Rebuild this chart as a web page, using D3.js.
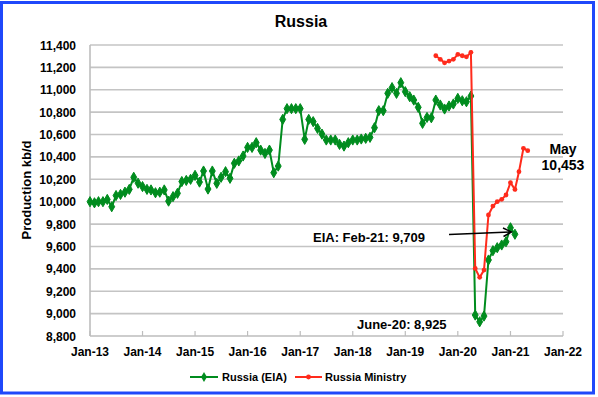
<!DOCTYPE html>
<html>
<head>
<meta charset="utf-8">
<script src="https://cdn.jsdelivr.net/npm/d3@7"></script>
<style>
  html, body { margin: 0; padding: 0; background: #fff; }
  svg { display: block; font-family: "Liberation Sans", Arial, sans-serif; }
</style>
</head>
<body>
<div id="main"></div>
<script>
// Russia oil production, kb/d
const eiaStart = new Date(2013, 0, 1);
const eiaValues = [
  10000, 9990, 10000, 10000, 10020, 9955, 10055, 10065, 10085, 10110, 10218, 10165,
  10135, 10110, 10105, 10080, 10085, 10105, 10005, 10045, 10075, 10180, 10190, 10200,
  10235, 10175, 10274, 10113, 10274, 10164, 10218, 10268, 10209, 10343, 10364, 10408,
  10485, 10485, 10527, 10461, 10431, 10461, 10259, 10318, 10735, 10831, 10831, 10831,
  10831, 10557, 10735, 10715, 10655, 10604, 10551, 10551, 10551, 10512, 10497, 10527,
  10551, 10551, 10560, 10566, 10575, 10661, 10813, 10813, 10968, 11019, 10968, 11063,
  10983, 10938, 10908, 10843, 10700, 10753, 10750, 10908, 10864, 10828, 10855, 10873,
  10923, 10902, 10893, 10944, 8987, 8927, 8978, 9479, 9562, 9589, 9613, 9642,
  9767, 9709
];
const ministryStart = new Date(2019, 7, 1);
const ministryValues = [
  11304, 11272, 11241, 11256, 11272,
  11316, 11304, 11294, 11335, 9404, 9324, 9389, 9881, 9961, 10000, 10021, 10060,
  10170, 10110, 10268, 10477, 10456
];
const xTickLabels = ["Jan-13", "Jan-14", "Jan-15", "Jan-16", "Jan-17", "Jan-18", "Jan-19", "Jan-20", "Jan-21", "Jan-22"];
const yTicks = [8800, 9000, 9200, 9400, 9600, 9800, 10000, 10200, 10400, 10600, 10800, 11000, 11200, 11400];

const green = "#008c1e", red = "#ff2b1c";

const toSeries = (start, vals) => vals.map((v, i) => ({ date: d3.timeMonth.offset(start, i), value: v }));
const eia = toSeries(eiaStart, eiaValues);
const ministry = toSeries(ministryStart, ministryValues);

const width = 598, height = 397;
const svg = d3.select('#main').append('svg').attr('width', width).attr('height', height);

const x = d3.scaleTime().domain([new Date(2013, 0, 1), new Date(2022, 0, 1)]).range([90, 563]);
const y = d3.scaleLinear().domain([8800, 11400]).range([336, 45]);
const parseTick = d3.timeParse("%b-%y");

// outer frame
svg.append('rect').attr('x', 1.5).attr('y', 2.5).attr('width', 592).attr('height', 390.5)
  .style('fill', '#fff').style('stroke', '#1f48fb').style('stroke-width', 3);

// gridlines
svg.append('g').selectAll('line').data(yTicks.slice(1)).join('line')
  .attr('x1', 90).attr('x2', 563)
  .attr('y1', d => y(d)).attr('y2', d => y(d))
  .style('stroke', '#c4c4c4').style('stroke-width', 1.6);

// axes lines
svg.append('line').attr('x1', 90).attr('x2', 90).attr('y1', 45).attr('y2', 336)
  .style('stroke', '#bdbdbd').style('stroke-width', 1.6);
svg.append('line').attr('x1', 90).attr('x2', 563).attr('y1', 336).attr('y2', 336)
  .style('stroke', '#bdbdbd').style('stroke-width', 1.6);

// y ticks
svg.append('g').selectAll('text').data(yTicks).join('text')
  .attr('x', 76).attr('y', d => y(d) + 4.5)
  .style('text-anchor', 'end').style('font-size', '12px').style('font-weight', 'bold')
  .text(d => d3.format(',')(d));

// x ticks
const xt = svg.append('g');
xt.selectAll('line').data(xTickLabels).join('line')
  .attr('x1', d => x(parseTick(d))).attr('x2', d => x(parseTick(d)))
  .attr('y1', 336).attr('y2', 331)
  .style('stroke', '#bdbdbd').style('stroke-width', 1.2);
xt.selectAll('text').data(xTickLabels).join('text')
  .attr('x', d => x(parseTick(d))).attr('y', 356)
  .style('text-anchor', 'middle').style('font-size', '12px').style('font-weight', 'bold')
  .text(d => d);

// titles
svg.append('text').attr('x', 301).attr('y', 27).style('text-anchor', 'middle')
  .style('font-size', '16px').style('font-weight', 'bold').text('Russia');
svg.append('text').attr('transform', 'translate(31,190) rotate(-90)').style('text-anchor', 'middle')
  .style('font-size', '13px').style('font-weight', 'bold').text('Production kb/d');

// series
const line = d3.line().x(d => x(d.date)).y(d => y(d.value));
const diamond = d3.symbol().type(d3.symbolDiamond).size(30);

svg.append('path').datum(eia).attr('d', line)
  .style('fill', 'none').style('stroke', green).style('stroke-width', 2);
svg.append('g').selectAll('path').data(eia).join('path')
  .attr('d', diamond).attr('transform', d => `translate(${x(d.date)},${y(d.value)})`)
  .style('fill', green).style('stroke', green).style('stroke-width', 1);

svg.append('path').datum(ministry).attr('d', line)
  .style('fill', 'none').style('stroke', red).style('stroke-width', 2);
svg.append('g').selectAll('circle').data(ministry).join('circle')
  .attr('cx', d => x(d.date)).attr('cy', d => y(d.value)).attr('r', 2.4)
  .style('fill', red);

// annotations
const ann = (tx, ty, t, size) => svg.append('text').attr('x', tx).attr('y', ty)
  .style('font-size', size).style('font-weight', 'bold').text(t);
ann(313, 242, 'EIA: Feb-21: 9,709', '13px');
ann(357, 329, 'June-20: 8,925', '13px');
svg.append('text').attr('x', 563).attr('y', 154).style('text-anchor', 'middle')
  .style('font-size', '14px').style('font-weight', 'bold').text('May');
svg.append('text').attr('x', 563).attr('y', 170).style('text-anchor', 'middle')
  .style('font-size', '14px').style('font-weight', 'bold').text('10,453');

// arrow
svg.append('line').attr('x1', 449).attr('y1', 234.5).attr('x2', 511).attr('y2', 232)
  .style('stroke', '#000').style('stroke-width', 1.5);
svg.append('path').attr('d', 'M503,228 L511.5,232 L503.5,236.5')
  .style('fill', 'none').style('stroke', '#000').style('stroke-width', 1.5);

// legend
const lg = svg.append('g').attr('transform', 'translate(0,377)');
lg.append('line').attr('x1', 190).attr('x2', 218).style('stroke', green).style('stroke-width', 2);
lg.append('path').attr('d', diamond).attr('transform', 'translate(204,0)').style('fill', green);
lg.append('text').attr('x', 222).attr('y', 4).style('font-size', '11px').style('font-weight', 'bold').text('Russia (EIA)');
lg.append('line').attr('x1', 295).attr('x2', 322).style('stroke', red).style('stroke-width', 2);
lg.append('circle').attr('cx', 308.5).attr('r', 2.4).style('fill', red);
lg.append('text').attr('x', 325).attr('y', 4).style('font-size', '11px').style('font-weight', 'bold').text('Russia Ministry');
</script>
</body>
</html>
